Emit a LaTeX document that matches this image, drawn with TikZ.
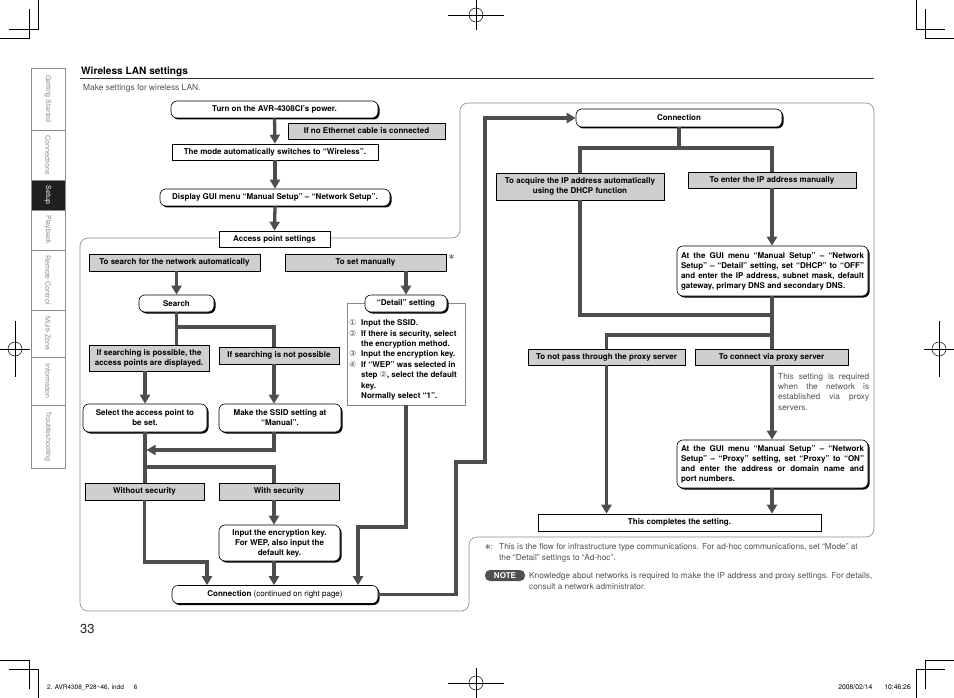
\documentclass[tikz,border=0pt]{standalone}
\usepackage{fontspec}
\setmainfont{TeX Gyre Heros}
\newfontfamily\symfont{DejaVu Sans}
\usetikzlibrary{arrows.meta,shadows,calc}
\definecolor{arrgray}{HTML}{4D4D4D}
\definecolor{boxgray}{HTML}{CFCFCF}
\definecolor{panelgray}{HTML}{8A8A8A}
\definecolor{txtgray}{HTML}{505050}
\definecolor{tabgray}{HTML}{8C8C8C}
\newcommand{\cnum}[1]{\makebox[12pt][l]{\symfont\mdseries\fontsize{8}{8}\selectfont\textcolor{txtgray}{#1}}}
\tikzset{
 boxfont/.style={font=\bfseries\fontsize{8}{10}\selectfont},
 rbox/.style={boxfont, draw=black, line width=0.6pt, fill=white, rounded corners=6pt, align=center, inner sep=1pt,
   drop shadow={shadow xshift=1.5pt, shadow yshift=-1.5pt, fill=black, opacity=1}},
 sbox/.style={boxfont, draw=black, line width=0.6pt, fill=white, align=center, inner sep=1pt},
 gbox/.style={boxfont, draw=black, line width=0.5pt, fill=boxgray, align=center, inner sep=1pt,
   drop shadow={shadow xshift=0.8pt, shadow yshift=-0.8pt, fill=black!70, opacity=1}},
 ln/.style={draw=arrgray, line width=3.3pt, line join=miter},
 arr/.style={ln, -{Triangle[width=10pt,length=9pt]}},
 tabtxt/.style={rotate=-90, font=\fontsize{7.1}{8}\selectfont, text=tabgray},
 crop/.style={line width=0.5pt, draw=black},
 note/.style={font=\fontsize{8.3}{10.3}\selectfont, text=txtgray, inner sep=0pt},
}
\begin{document}
\begin{tikzpicture}[x=1pt,y=-1pt]
\useasboundingbox (0,0) rectangle (954,698);

% crop marks
\draw[crop] (38,0) -- (38,29) -- (9,29); \draw[crop] (29,9) -- (29,38) -- (0,38);
\draw[crop] (916,0) -- (916,29) -- (945,29); \draw[crop] (925,9) -- (925,38) -- (954,38);
\draw[crop] (38,698) -- (38,669) -- (9,669); \draw[crop] (29,689) -- (29,660) -- (0,660);
\draw[crop] (916,698) -- (916,669) -- (945,669); \draw[crop] (925,689) -- (925,660) -- (954,660);
% registration marks
\foreach \cx/\cy/\dx/\dy in {476/15/28/15, 476/683/28/15, 15/349/15/28, 939/349/15/28}{
  \draw[crop] (\cx-\dx,\cy) -- (\cx+\dx,\cy);
  \draw[crop] (\cx,\cy-\dy) -- (\cx,\cy+\dy);
  \draw[crop] (\cx,\cy) circle[radius=7];
}

% side tabs
\fill[black!88] (31,180) rectangle (65,210);
\draw[tabgray, line width=0.5pt] (31,68) rectangle (65,468);
\foreach \yy in {130,180,210,250,310,357,405}{\draw[tabgray, line width=0.5pt] (31,\yy) -- (65,\yy);}
\node[tabtxt] (t1) at (48,99) {Getting Started};
\node[tabtxt] (t2) at (48,155) {Connections};
\node[tabtxt, text=white] (t3) at (48,195) {Setup};
\node[tabtxt] (t4) at (48,230) {Playback};
\node[tabtxt] (t5) at (48,280) {Remote Control};
\node[tabtxt] (t6) at (48,333.5) {Multi-Zone};
\node[tabtxt] (t7) at (48,381) {Information};
\node[tabtxt] (t8) at (48,436.5) {Troubleshooting};

% heading
\node[anchor=base west, inner sep=0, font=\bfseries\fontsize{10.1}{11}\selectfont] (title) at (81,75) {Wireless LAN settings};
\draw[line width=1.4pt, black!80] (80,78.8) -- (874,78.8);
\node[anchor=base west, inner sep=0, font=\fontsize{8.4}{9}\selectfont, text=txtgray] (intro) at (83,91) {Make settings for wireless LAN.};

% panels
\draw[panelgray, line width=0.6pt, rounded corners=8pt] (200,238) -- (460,238) -- (460,103) -- (874,103) -- (874,537) -- (469,537) -- (469,611) -- (80,611) -- (80,238) -- cycle;

% ---------- left page ----------
\node[rbox, minimum width=207pt, minimum height=17pt] (turnon) at (274.5,109.5) {Turn on the AVR-4308CI’s power.};
\node[gbox, minimum width=157pt, minimum height=16pt] (noeth) at (366.5,131) {If no Ethernet cable is connected};
\node[sbox, minimum width=206pt, minimum height=16pt] (mode) at (275,152) {The mode automatically switches to “Wireless”.};
\node[rbox, minimum width=230pt, minimum height=17pt] (display) at (275,197.5) {Display GUI menu “Manual Setup” – “Network Setup”.};
\node[sbox, minimum width=111pt, minimum height=16pt] (access) at (274.5,239) {Access point settings};
\node[gbox, minimum width=171pt, minimum height=17pt] (auto) at (174.5,262.5) {To search for the network automatically};
\node[gbox, minimum width=161pt, minimum height=17pt] (manual) at (365.5,262.5) {To set manually};
\node[inner sep=0, font=\symfont\fontsize{6.5}{6.5}\selectfont, text=txtgray] (star) at (451.5,257.5) {✻};
\node[rbox, minimum width=75pt, minimum height=17pt] (search) at (176.5,303.5) {Search};
\node[draw=panelgray, line width=0.6pt, minimum width=118pt, minimum height=101.5pt, inner sep=0] (frame) at (406,354.25) {};
\node[rbox, minimum width=82pt, minimum height=17pt] (detail) at (406,303.5) {“Detail” setting};
\node[anchor=north west, align=left, inner sep=0, font=\bfseries\fontsize{8}{10.4}\selectfont] (steps) at (349,319.5)
 {\cnum{①}Input the SSID.\\
  \cnum{②}If there is security, select\\
  \hspace*{12pt}the encryption method.\\
  \cnum{③}Input the encryption key.\\
  \cnum{④}If “WEP” was selected in\\
  \hspace*{12pt}step {\symfont\mdseries\textcolor{txtgray}{②}}, select the default\\
  \hspace*{12pt}key.\\
  \hspace*{12pt}Normally select “1”.};
\node[gbox, minimum width=120pt, minimum height=26pt] (poss) at (149,358) {If searching is possible, the\\access points are displayed.};
\node[gbox, minimum width=120pt, minimum height=17pt] (notposs) at (279,355.5) {If searching is not possible};
\node[rbox, minimum width=124pt, minimum height=28pt] (select) at (145,418) {Select the access point to\\be set.};
\node[rbox, minimum width=122pt, minimum height=28pt] (makessid) at (280,418) {Make the SSID setting at\\“Manual”.};
\node[gbox, minimum width=119pt, minimum height=17pt] (nosec) at (144.5,491.5) {Without security};
\node[gbox, minimum width=120pt, minimum height=17pt] (withsec) at (279,491.5) {With security};
\node[rbox, minimum width=121pt, minimum height=36pt] (inputkey) at (279.5,543) {Input the encryption key.\\For WEP, also input the\\default key.};
\node[rbox, minimum width=206pt, minimum height=18pt] (conn1) at (275,594.5) {Connection {\mdseries (continued on right page)}};

% left connectors
\coordinate (s1) at (274,327);
\coordinate (j1) at (146.5,450);
\coordinate (j2) at (145,467);
\coordinate (j3) at (207,562);
\coordinate (j4) at (358,527);
\draw[arr] (turnon.south) -- (mode.north);
\draw[arr] (mode.south) -- (display.north);
\draw[arr] (display.south) -- (access.north);
\draw[arr] (search.north |- auto.south) -- (search.north);
\draw[arr] (detail.north |- manual.south) -- (detail.north);
\draw[ln] (search.south) |- (s1) -- (s1 |- notposs.north);
\draw[ln] (search.south) -- (search.south |- poss.north);
\draw[arr] (select.north |- poss.south) -- (select.north);
\draw[arr] (s1 |- notposs.south) -- (s1 |- makessid.north);
\draw[ln] (select.south) -- (select.south |- nosec.north);
\draw[arr] (s1 |- makessid.south) |- (j1);
\draw[ln] (j2) -| (s1 |- withsec.north);
\draw[arr] (s1 |- withsec.south) -- (s1 |- inputkey.north);
\draw[arr] (nosec.south) |- (j3) -- (j3 |- conn1.north);
\draw[arr] (s1 |- inputkey.south) -- (s1 |- conn1.north);
\draw[arr] (frame.south) |- (j4) -- (j4 |- conn1.north);

% ---------- right page ----------
\node[rbox, minimum width=206pt, minimum height=18pt] (conn2) at (679,118) {Connection};
\node[gbox, minimum width=168pt, minimum height=27pt] (dhcp) at (580,186.5) {To acquire the IP address automatically\\using the DHCP function};
\node[gbox, minimum width=168pt, minimum height=16pt] (ipman) at (772,180) {To enter the IP address manually};
\node[rbox, minimum width=191pt, minimum height=50pt, align=left] (gui1) at (772.5,271)
 {\makebox[183pt][s]{At the GUI menu “Manual Setup” – “Network}\\
  \makebox[183pt][s]{Setup” – “Detail” setting, set “DHCP” to “OFF”}\\
  \makebox[183pt][s]{and enter the IP address, subnet mask, default}\\
  gateway, primary DNS and secondary DNS.};
\node[gbox, minimum width=157pt, minimum height=16pt] (noproxy) at (606.5,357) {To not pass through the proxy server};
\node[gbox, minimum width=153pt, minimum height=16pt] (viaproxy) at (771.5,357) {To connect via proxy server};
\node[note, anchor=north west, align=left] (pnote) at (778,373)
 {\makebox[91pt][s]{This setting is required}\\
  \makebox[91pt][s]{when the network is}\\
  \makebox[91pt][s]{established via proxy}\\
  servers.};
\node[rbox, minimum width=191pt, minimum height=48pt, align=left] (gui2) at (772.5,464)
 {\makebox[183pt][s]{At the GUI menu “Manual Setup” – “Network}\\
  \makebox[183pt][s]{Setup” – “Proxy” setting, set “Proxy” to “ON”}\\
  \makebox[183pt][s]{and enter the address or domain name and}\\
  port numbers.};
\node[sbox, minimum width=283pt, minimum height=17pt] (done) at (679.5,522.5) {This completes the setting.};

% cross-page connector
\coordinate (k1) at (456,462);
\coordinate (k2) at (485,462);
\draw[arr] (conn1.east) -| (k1) -- (k2) |- (conn2.west);

% right connectors
\coordinate (r1) at (679,148);
\coordinate (r2) at (772,315);
\coordinate (r3) at (772,335);
\draw[ln] (conn2.south) -- (r1);
\draw[ln] (dhcp.north) |- (r1) -| (ipman.north);
\draw[arr] (ipman.south) -- (ipman.south |- gui1.north);
\draw[ln] (dhcp.south) |- (r2);
\draw[ln] (r2 |- gui1.south) -- (r2 |- viaproxy.north);
\draw[ln] (r3) -| (noproxy.north);
\draw[arr] (noproxy.south) -- (noproxy.south |- done.north);
\draw[arr] (r2 |- viaproxy.south) -- (r2 |- gui2.north);
\draw[arr] (r2 |- gui2.south) -- (r2 |- done.north);

% footnotes
\node[note, anchor=base west] (fnstar) at (485,549.5) {{\symfont\fontsize{6.5}{6.5}\selectfont ✻}:};
\node[note, anchor=base west] (fn1) at (499,549.5) {This is the flow for infrastructure type communications. For ad-hoc communications, set “Mode” at};
\node[note, anchor=base west] (fn2) at (499,560) {the “Detail” settings to “Ad-hoc”.};
\node[fill=txtgray, rounded corners=5pt, minimum width=40pt, minimum height=11pt, inner sep=0, text=white, font=\bfseries\fontsize{8}{8}\selectfont] (notebadge) at (505,575.5) {NOTE};
\node[note, anchor=base west] (nt1) at (529,578.5) {Knowledge about networks is required to make the IP address and proxy settings. For details,};
\node[note, anchor=base west] (nt2) at (529,589.5) {consult a network administrator.};

% page number and slug
\node[anchor=base west, inner sep=0, font=\fontsize{13}{14}\selectfont, text=black!85] (pnum) at (80,633) {33};
\node[anchor=base west, inner sep=0, font=\fontsize{6.4}{7}\selectfont] (slug) at (47,689) {2. AVR4308\_P28\textasciitilde46. indd\hspace{10pt}6};
\node[anchor=base east, inner sep=0, font=\fontsize{6.8}{7}\selectfont] (date) at (911,689) {2008/02/14\hspace{12pt}10:46:26};
\end{tikzpicture}
\end{document}
